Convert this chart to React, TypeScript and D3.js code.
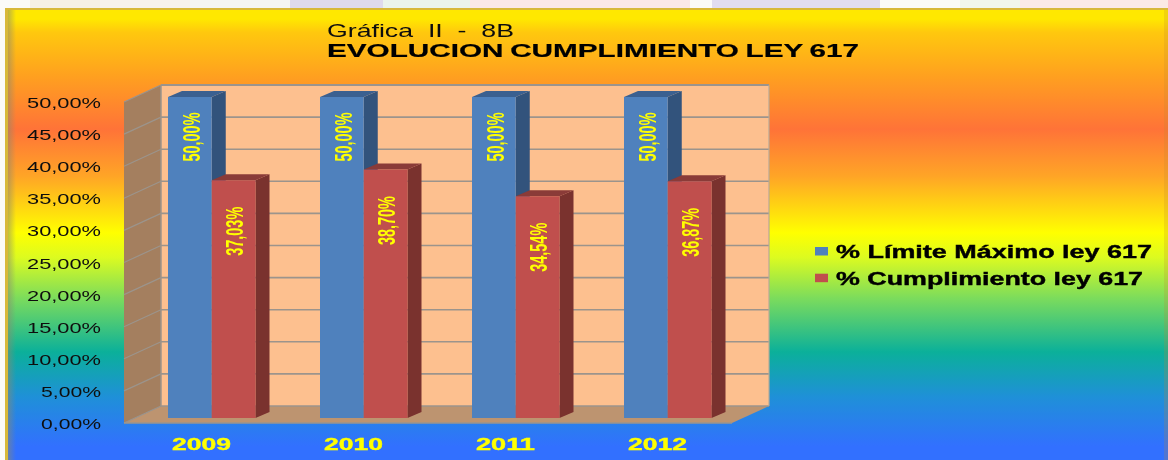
import React from "react";
import * as d3 from "d3";

const categories = ["2009", "2010", "2011", "2012"];
const seriesNames = ["% Límite Máximo ley 617", "% Cumplimiento ley 617"];
const limitValues = [50, 50, 50, 50];
const complianceValues = [37.03, 38.7, 34.54, 36.87];
const limitLabels = ["50,00%", "50,00%", "50,00%", "50,00%"];
const complianceLabels = ["37,03%", "38,70%", "34,54%", "36,87%"];
const yTicks = [0, 5, 10, 15, 20, 25, 30, 35, 40, 45, 50];
const bgStops = [
  [0.02, "#ffe800"], [0.05, "#ffc80e"], [0.15, "#ff9f20"], [0.265, "#ff7338"], [0.37, "#ffa526"],
  [0.495, "#ffff00"], [0.55, "#dcfb20"], [0.64, "#7cdc5c"], [0.76, "#0bb09a"], [0.86, "#1f90d8"], [0.97, "#3270ff"],
] as const;
const topPatches = [
  [30, 100, "#f6f0e4"], [100, 190, "#f7f2ec"], [190, 290, "#f5f5f2"], [290, 383, "#dfdaec"], [383, 470, "#ebf4eb"],
  [470, 690, "#fbe8e6"], [712, 880, "#e2ddef"], [960, 1020, "#f1f6ea"], [1020, 1168, "#fbeae6"],
] as const;

const DX = 14;
const DY = 6;
const fmtTick = (v: number) => `${v.toFixed(2).replace(".", ",")}%`;
const poly = (p: number[][]) => (d3.line()(p as [number, number][]) as string) + "Z";

export default function App() {
  const yBar = d3.scaleLinear().domain([0, 50]).range([418, 97]);
  const yFront = d3.scaleLinear().domain([0, 50]).range([423, 102]);
  const yBack = d3.scaleLinear().domain([0, 50]).range([406, 85]);
  const xGroup = d3.scaleBand().domain(categories).range([168, 168 + 152 * 4]);
  const xSeries = d3.scaleBand().domain(["limit", "comp"]).range([0, 87.5]);
  const w = xSeries.bandwidth();

  const bars = categories.flatMap((c, i) => [
    { c, key: "limit", v: limitValues[i], label: limitLabels[i], front: "#4f81bd", side: "#32527c", top: "#3a6090", off: 40, nudge: 1 },
    { c, key: "comp", v: complianceValues[i], label: complianceLabels[i], front: "#c0504d", side: "#7a302e", top: "#8a3a38", off: 51, nudge: 0 },
  ]);

  return (
    <svg width={1168} height={460} style={{ position: "absolute", left: 0, top: 0, display: "block" }}
      fontFamily="'Liberation Sans', Arial, sans-serif">
      <defs>
        <linearGradient id="bg" x1="0" y1="0" x2="0" y2="1">
          {bgStops.map(([o, c]) => <stop key={o} offset={o} stopColor={c} />)}
        </linearGradient>
        <linearGradient id="edgeL" x1="0" x2="1" y1="0" y2="0">
          <stop offset="0" stopColor="#8a8a70" stopOpacity={0.55} />
          <stop offset="1" stopColor="#8a8a70" stopOpacity={0} />
        </linearGradient>
        <filter id="soft" x="-2%" y="-2%" width="104%" height="104%">
          <feGaussianBlur stdDeviation="0.5" />
        </filter>
      </defs>

      <rect x={0} y={0} width={1168} height={460} fill="#fbfbf8" />
      {topPatches.map(([a, b, c]) => <rect key={a} x={a} y={0} width={b - a} height={8} fill={c} />)}
      <rect x={5} y={8} width={1163} height={452} fill="#d8b93a" />
      <rect x={8} y={10} width={1160} height={450} fill="url(#bg)" />
      <rect x={8} y={10} width={8} height={450} fill="url(#edgeL)" />
      <rect x={1164} y={10} width={4} height={450} fill="#c08a30" opacity={0.22} />

      <g filter="url(#soft)">
        <rect x={161} y={yBack(50)} width={608} height={yBack(0) - yBack(50)} fill="#fdc08f" />
        <path d={poly([[124, yFront(50)], [161, yBack(50)], [161, yBack(0)], [124, yFront(0)]])} fill="#a47f5e" />
        <path d={poly([[124, yFront(0)], [161, yBack(0)], [769, yBack(0)], [732, yFront(0)]])} fill="#bd9470" />
        {yTicks.map((t) => (
          <g key={t} stroke="#9c948c" fill="none" strokeWidth={t === 50 ? 2 : 1.6}>
            <line x1={161} x2={769} y1={yBack(t)} y2={yBack(t)} />
            <line x1={124} x2={161} y1={yFront(t)} y2={yBack(t)} strokeWidth={1.2} />
          </g>
        ))}
        <line x1={161} x2={161} y1={yBack(50)} y2={yBack(0)} stroke="#9c948c" strokeWidth={1.5} />
        <line x1={769} x2={769} y1={yBack(50)} y2={yBack(0)} stroke="#b8a896" strokeWidth={1.2} />
        <line x1={124} x2={732} y1={yFront(0)} y2={yFront(0)} stroke="#9c948c" strokeWidth={1.5} />

        {bars.map((b) => {
          const x0 = (xGroup(b.c) as number) + (xSeries(b.key) as number);
          const x1 = x0 + w;
          const y0 = yBar(b.v);
          const yb = yBar(0);
          return (
            <g key={b.c + b.key}>
              <path d={poly([[x1, y0], [x1 + DX, y0 - DY], [x1 + DX, yb - DY], [x1, yb]])} fill={b.side} />
              <path d={poly([[x0, y0], [x0 + DX, y0 - DY], [x1 + DX, y0 - DY], [x1, y0]])} fill={b.top} />
              <rect x={x0} y={y0} width={w} height={yb - y0} fill={b.front} />
            </g>
          );
        })}
        {bars.map((b) => {
          const xc = (xGroup(b.c) as number) + (xSeries(b.key) as number) + w / 2 + 9 + b.nudge;
          const yc = yBar(b.v) + b.off;
          return (
            <text key={b.c + b.key + "t"} transform={`translate(${xc},${yc}) rotate(-90)`} textAnchor="middle"
              fontSize={23} fontWeight={700} fill="#ffff00" textLength={49} lengthAdjust="spacingAndGlyphs">
              {b.label}
            </text>
          );
        })}

        {yTicks.map((t) => (
          <text key={t} x={101} y={yFront(t) + 6} textAnchor="end" fontSize={14.5} fill="#111"
            textLength={t < 10 ? 60 : 74} lengthAdjust="spacingAndGlyphs">
            {fmtTick(t)}
          </text>
        ))}

        {categories.map((c) => (
          <text key={c} x={(xGroup(c) as number) + 33.5} y={450} textAnchor="middle" fontSize={17} fontWeight={700}
            fill="#ffff00" stroke="#ffff00" strokeWidth={0.4} textLength={59} lengthAdjust="spacingAndGlyphs">
            {c}
          </text>
        ))}

        <text x={327} y={37} fontSize={18.5} fill="#111" textLength={187} lengthAdjust="spacingAndGlyphs"
          style={{ whiteSpace: "pre" }}>Gráfica  II  -  8B</text>
        <text x={327} y={57} fontSize={18.5} fontWeight={700} fill="#000" stroke="#000" strokeWidth={0.2}
          wordSpacing={-1} textLength={532} lengthAdjust="spacingAndGlyphs">EVOLUCION CUMPLIMIENTO LEY 617</text>

        {seriesNames.map((n, i) => (
          <g key={n}>
            <rect x={815} y={247 + i * 26.7} width={13} height={8.5} fill={i === 0 ? "#4f81bd" : "#c0504d"} />
            <text x={836} y={257.5 + i * 27} fontSize={18} fontWeight={700} fill="#000" stroke="#000" strokeWidth={0.4}
              textLength={i === 0 ? 316 : 307} lengthAdjust="spacingAndGlyphs">{n}</text>
          </g>
        ))}
      </g>
    </svg>
  );
}
